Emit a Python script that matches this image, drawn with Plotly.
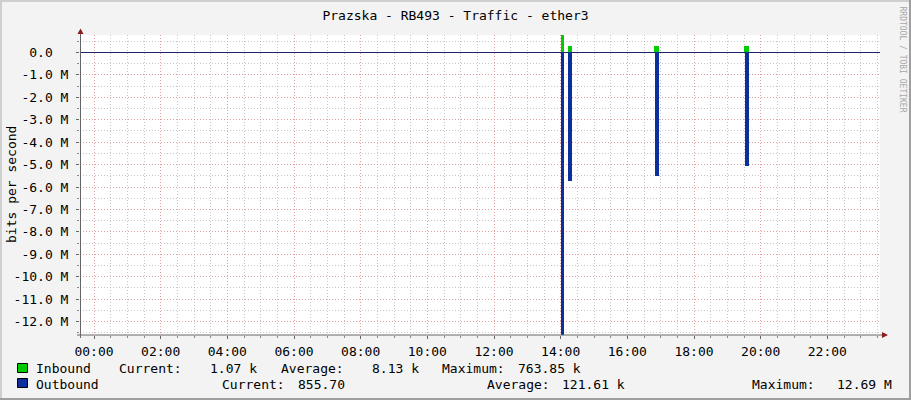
import plotly.graph_objects as go

# ---------------- data ----------------
title_text = "Prazska - RB493 - Traffic - ether3"
x_tick_hours = [0, 2, 4, 6, 8, 10, 12, 14, 16, 18, 20, 22]
x_tick_labels = ["00:00", "02:00", "04:00", "06:00", "08:00", "10:00",
                 "12:00", "14:00", "16:00", "18:00", "20:00", "22:00"]
y_tick_values = [0, -1e6, -2e6, -3e6, -4e6, -5e6, -6e6, -7e6, -8e6,
                 -9e6, -10e6, -11e6, -12e6]
y_tick_labels = ["0.0\u00a0\u00a0", "-1.0 M", "-2.0 M", "-3.0 M", "-4.0 M",
                 "-5.0 M", "-6.0 M", "-7.0 M", "-8.0 M", "-9.0 M",
                 "-10.0 M", "-11.0 M", "-12.0 M"]

# time of each traffic burst (hours of the day)
burst_hours = [14.06, 14.28, 16.875, 19.575]
inbound_bps = [763.85e3, 0.27e6, 0.27e6, 0.27e6]
outbound_bps = [-12.69e6, -5.71e6, -5.49e6, -5.07e6]

legend_rows = [
    ("Inbound", "#00CC00",
     [("Current:", "1.07 k"), ("Average:", "8.13 k"), ("Maximum:", "763.85 k")]),
    ("Outbound", "#0B2F9C",
     [("Current:", "855.70"), ("Average:", "121.61 k"), ("Maximum:", "12.69 M")]),
]

# ---------------- styling ----------------
in_bar_widths = [0.09, 0.13, 0.14, 0.14]
out_bar_widths = [0.085, 0.1, 0.12, 0.12]

W, H = 911, 400
ML, MR, MT, MB = 80, 31, 35, 65
PW, PH = W - ML - MR, H - MT - MB


def px(x):
    return (x - ML) / PW


def py(y):
    return (H - MB - y) / PH


FONT = "DejaVu Sans Mono, monospace"

fig = go.Figure()
fig.add_trace(go.Bar(x=burst_hours, y=inbound_bps, width=in_bar_widths,
                     marker=dict(color="#00CC00", line=dict(width=0)),
                     name="Inbound", showlegend=False))
fig.add_trace(go.Bar(x=burst_hours, y=outbound_bps, width=out_bar_widths,
                     marker=dict(color="#0B2F9C", line=dict(width=0)),
                     name="Outbound", showlegend=False))

red_grid = "rgba(240,130,130,0.6)"
gray_grid = "rgba(175,175,175,0.7)"

fig.update_layout(
    width=W, height=H,
    margin=dict(l=ML, r=MR, t=MT, b=MB, pad=0),
    paper_bgcolor="#F3F3F3", plot_bgcolor="#FFFFFF",
    barmode="overlay", bargap=0,
    font=dict(family=FONT, size=13, color="#000000"),
    title=dict(text=title_text, x=0.5, xref="container", xanchor="center",
               y=1 - 15 / H, yref="container", yanchor="middle",
               font=dict(family=FONT, size=13, color="#000000")),
    xaxis=dict(range=[-0.42, 23.58], tickmode="array", tickvals=x_tick_hours,
               ticktext=x_tick_labels, showgrid=True, gridcolor=red_grid,
               griddash="1px,2px", gridwidth=1, zeroline=False,
               showline=False, ticks="outside", ticklen=3, tickcolor="#666666",
               ticklabelstandoff=1,
               tickfont=dict(family=FONT, size=13, color="#000000"),
               minor=dict(dtick=0.5, tick0=0, showgrid=True, gridcolor=gray_grid,
                          griddash="1px,2px", gridwidth=1, ticks="outside",
                          ticklen=2, tickcolor="#888888"),
               fixedrange=True),
    yaxis=dict(range=[-12.60e6, 0.78e6], tickmode="array", tickvals=y_tick_values,
               ticktext=y_tick_labels, showgrid=True, gridcolor=red_grid,
               griddash="1px,2px", gridwidth=1, zeroline=True,
               zerolinecolor="#1A2466", zerolinewidth=1.3,
               showline=False, ticks="outside", ticklen=3, tickcolor="#666666",
               ticklabelstandoff=5,
               tickfont=dict(family=FONT, size=13, color="#000000"),
               minor=dict(dtick=0.5e6, tick0=0, showgrid=True, gridcolor=gray_grid,
                          griddash="1px,2px", gridwidth=1, ticks="outside",
                          ticklen=2, tickcolor="#888888"),
               fixedrange=True),
)

shapes = []
axis_col = "#666666"
arrow_col = "#8B1C1C"
shapes.append(dict(type="line", xref="paper", yref="paper",
                   x0=px(77), x1=px(883), y0=py(335), y1=py(335),
                   line=dict(color=axis_col, width=1), layer="above"))
shapes.append(dict(type="line", xref="paper", yref="paper",
                   x0=px(80.5), x1=px(80.5), y0=py(338), y1=py(33),
                   line=dict(color=axis_col, width=1), layer="above"))
shapes.append(dict(type="path", xref="paper", yref="paper",
                   path=f"M {px(77.5)},{py(34)} L {px(83.5)},{py(34)} L {px(80.5)},{py(28.5)} Z",
                   fillcolor=arrow_col, line=dict(width=0), layer="above"))
shapes.append(dict(type="path", xref="paper", yref="paper",
                   path=f"M {px(882)},{py(332)} L {px(882)},{py(338)} L {px(888)},{py(335)} Z",
                   fillcolor=arrow_col, line=dict(width=0), layer="above"))
shapes.append(dict(type="rect", xref="paper", yref="paper",
                   x0=px(0), x1=px(W), y0=py(0), y1=py(2),
                   fillcolor="#CFCFCF", line=dict(width=0)))
shapes.append(dict(type="rect", xref="paper", yref="paper",
                   x0=px(0), x1=px(2), y0=py(0), y1=py(H),
                   fillcolor="#CFCFCF", line=dict(width=0)))
shapes.append(dict(type="rect", xref="paper", yref="paper",
                   x0=px(W - 2), x1=px(W), y0=py(0), y1=py(H),
                   fillcolor="#9E9E9E", line=dict(width=0)))
shapes.append(dict(type="rect", xref="paper", yref="paper",
                   x0=px(0), x1=px(W), y0=py(H - 2), y1=py(H),
                   fillcolor="#9E9E9E", line=dict(width=0)))

annotations = []
annotations.append(dict(text="bits per second", xref="paper", yref="paper",
                        x=px(11), y=py(185), textangle=-90, showarrow=False,
                        xanchor="center", yanchor="middle",
                        font=dict(family=FONT, size=13, color="#000000")))
annotations.append(dict(text="RRDTOOL / TOBI OETIKER", xref="paper", yref="paper",
                        x=px(902.5), y=py(4), textangle=90, showarrow=False,
                        xanchor="center", yanchor="top",
                        font=dict(family=FONT, size=8, color="#A8A8A8")))

row_y = [368, 384]
box_y = [(363.5, 372.5), (378.5, 387.5)]
label_x = [[116.5, 279, 440], [220, 485, 750]]
value_rx = [[258.5, 421, 583], [347, 627, 893.5]]
for i, (name, col, stats) in enumerate(legend_rows):
    shapes.append(dict(type="rect", xref="paper", yref="paper",
                       x0=px(17.5), x1=px(27.5), y0=py(box_y[i][1]), y1=py(box_y[i][0]),
                       fillcolor=col, line=dict(color="#000000", width=1)))
    annotations.append(dict(text=name, xref="paper", yref="paper",
                            x=px(33.5), y=py(row_y[i]), showarrow=False,
                            xanchor="left", yanchor="middle",
                            font=dict(family=FONT, size=13, color="#000000")))
    for j, (lab, val) in enumerate(stats):
        annotations.append(dict(text=lab, xref="paper", yref="paper",
                                x=px(label_x[i][j]), y=py(row_y[i]), showarrow=False,
                                xanchor="left", yanchor="middle",
                                font=dict(family=FONT, size=13, color="#000000")))
        annotations.append(dict(text=val, xref="paper", yref="paper",
                                x=px(value_rx[i][j]), y=py(row_y[i]), showarrow=False,
                                xanchor="right", yanchor="middle",
                                font=dict(family=FONT, size=13, color="#000000")))

fig.update_layout(shapes=shapes, annotations=annotations)
fig.write_html("out.html", config={"displayModeBar": False},
               post_script="document.body.style.margin='0';document.body.style.overflow='hidden';")
